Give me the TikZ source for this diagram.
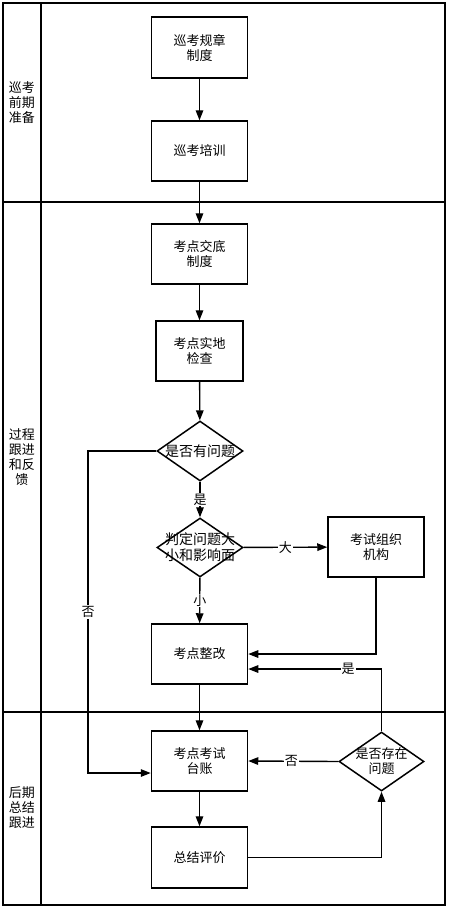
\documentclass[tikz,border=0pt]{standalone}
\usepackage{fontspec}
\setmainfont{Noto Sans CJK SC}
\usetikzlibrary{arrows.meta,shapes.geometric}
\tikzset{
  lane/.style={line width=1.7pt},
  procbox/.style={draw, line width=1.5pt, minimum width=96pt, minimum height=60pt, inner sep=0pt, align=center, font=\fontsize{13}{15}\selectfont},
  decision/.style={draw, diamond, line width=1.5pt, minimum width=86pt, minimum height=60pt, inner sep=0pt},
  dtext/.style={align=center, inner sep=0pt, font=\fontsize{14}{16}\selectfont},
  lanetext/.style={align=center, inner sep=0pt, font=\fontsize{13}{15}\selectfont},
  edgelabel/.style={fill=white, inner sep=1pt, font=\fontsize{13}{14}\selectfont},
  flow/.style={line width=1.4pt, -{Triangle[length=10pt,width=7.5pt]}},
}
\begin{document}
\begin{tikzpicture}[x=1pt,y=-1pt]
\useasboundingbox (0,0) rectangle (449,907);
% lanes
\draw[lane] (3,3) rectangle (445,202);
\draw[lane] (3,202) rectangle (445,712);
\draw[lane] (3,712) rectangle (445,905);
\draw[lane] (41,3) -- (41,905);
\node[lanetext] (l1) at (22,103) {巡考\\前期\\准备};
\node[lanetext] (l2) at (22,457) {过程\\跟进\\和反\\馈};
\node[lanetext] (l3) at (22,808) {后期\\总结\\跟进};
% nodes
\node[procbox, minimum height=61pt] (b1) at (199.5,47.5) {巡考规章\\制度};
\node[procbox] (b2) at (199.5,151) {巡考培训};
\node[procbox] (b3) at (199.5,254) {考点交底\\制度};
\node[procbox, minimum width=87pt] (b4) at (199.5,351) {考点实地\\检查};
\node[decision] (d1) at (200,451) {};
\node[dtext] (d1t) at (d1.center) {是否有问题};
\node[decision, minimum height=59pt] (d2) at (200,547.5) {};
\node[dtext] (d2t) at (d2.center) {判定问题大\\小和影响面};
\node[procbox] (org) at (376,547) {考试组织\\机构};
\node[procbox] (zg) at (199.5,654) {考点整改};
\node[procbox] (tz) at (199.5,761) {考点考试\\台账};
\node[procbox, minimum height=61pt] (zj) at (199.5,857.5) {总结评价};
\node[decision, minimum width=85pt, minimum height=59pt] (d3) at (381.5,761.5) {};
\node[procbox, draw=none, minimum width=0pt, minimum height=0pt] (d3t) at (d3.center) {是否存在\\问题};
% connectors
\draw[flow] (b1) -- (b2);
\draw[flow] (b2) -- (b3);
\draw[flow] (b3) -- (b4);
\draw[flow] (b4) -- (d1);
\draw[flow] (d1) -- node[edgelabel] (lyes1) {是} (d2);
\draw[flow] (d2) -- node[edgelabel] (lbig) {大} (org);
\draw[flow] (d2) -- node[edgelabel] (lsmall) {小} (zg);
\coordinate (c1) at (88,451);
\draw[flow] (d1.west) -- (c1) |- ([yshift=-12pt]tz.west);
\node[edgelabel] (lno1) at (88,612) {否};
\draw[flow] (org.south) |- (zg.east);
\draw[flow] (d3.north) |- ([yshift=-15pt]zg.east);
\node[edgelabel] (lyes2) at (348,669) {是};
\draw[flow] (zg) -- (tz);
\draw[flow] (d3.west) -- node[edgelabel, pos=0.52] (lno2) {否} (tz.east);
\draw[flow] (tz) -- (zj);
\draw[flow] (zj.east) -| (d3.south);
\end{tikzpicture}
\end{document}
